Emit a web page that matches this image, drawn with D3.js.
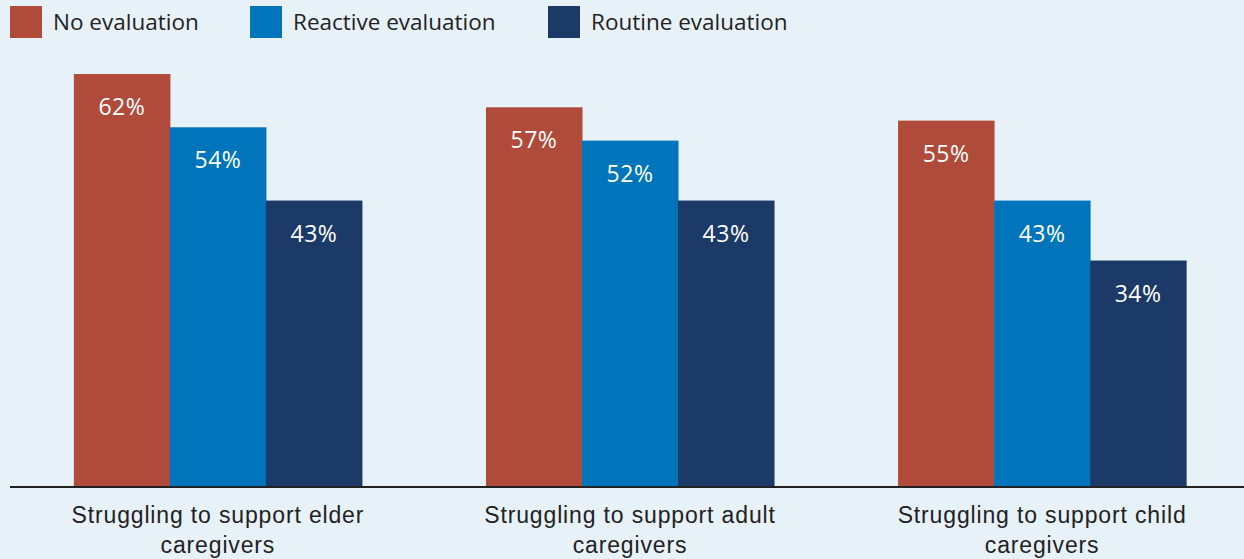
<!DOCTYPE html>
<html>
<head>
<meta charset="utf-8">
<script src="https://cdn.jsdelivr.net/npm/d3@7"></script>
<style>
  html, body { margin: 0; padding: 0; background: #e7f1f8; }
  svg { display: block; font-family: "Open Sans", "Noto Sans", sans-serif; }
</style>
</head>
<body>
<svg id="chart" width="1244" height="559"></svg>
<script>
const categories = [
  "Struggling to support elder caregivers",
  "Struggling to support adult caregivers",
  "Struggling to support child caregivers"
];
const seriesNames = ["No evaluation", "Reactive evaluation", "Routine evaluation"];
const noEvaluation = [62, 57, 55];
const reactiveEvaluation = [54, 52, 43];
const routineEvaluation = [43, 43, 34];
const seriesValues = [noEvaluation, reactiveEvaluation, routineEvaluation];
const colors = ["#b04a3a", "#0075bc", "#1c3a67"];

const svg = d3.select("#chart");
const W = 1244, H = 559;
svg.append("rect").attr("width", W).attr("height", H).attr("fill", "#e7f1f8");

const x0 = d3.scaleBand().domain(categories).range([10, 1250])
  .paddingInner(0.301).paddingOuter(0.155);
const x1 = d3.scaleBand().domain(seriesNames).range([0, x0.bandwidth()]).padding(0);
const y = d3.scaleLinear().domain([0, 62]).range([487, 74]);

const data = [];
categories.forEach((c, i) => {
  seriesNames.forEach((s, j) => {
    data.push({ cat: c, series: s, value: seriesValues[j][i], color: colors[j] });
  });
});

const g = svg.append("g");
g.selectAll("rect.bar").data(data).join("rect")
  .attr("class", "bar")
  .attr("x", d => x0(d.cat) + x1(d.series))
  .attr("y", d => y(d.value))
  .attr("width", x1.bandwidth() + 0.5)
  .attr("height", d => y(0) - y(d.value))
  .attr("fill", d => d.color);

g.selectAll("text.val").data(data).join("text")
  .attr("class", "val")
  .attr("x", d => x0(d.cat) + x1(d.series) + x1.bandwidth() / 2)
  .attr("y", d => y(d.value) + 41)
  .attr("text-anchor", "middle")
  .attr("fill", "#ffffff")
  .attr("font-size", 23)
  .attr("letter-spacing", 0.5)
  .text(d => d.value + "%");

// baseline axis
const xAxis = d3.axisBottom(x0).tickSize(0).tickFormat("");
const axisG = svg.append("g").attr("transform", `translate(0,${y(0)})`).call(xAxis);
axisG.select(".domain").remove();
axisG.append("line").attr("x1", 10).attr("x2", W).attr("y1", 0).attr("y2", 0)
  .attr("stroke", "#222").attr("stroke-width", 2);

// category labels (two lines)
const lines = {
  [categories[0]]: ["Struggling to support elder", "caregivers"],
  [categories[1]]: ["Struggling to support adult", "caregivers"],
  [categories[2]]: ["Struggling to support child", "caregivers"]
};
axisG.selectAll(".tick").each(function(d) {
  const t = d3.select(this).append("text")
    .attr("text-anchor", "middle")
    .attr("fill", "#222")
    .attr("font-size", 23)
    .attr("letter-spacing", 0.85);
  lines[d].forEach((ln, k) => {
    t.append("tspan").attr("x", 0).attr("y", 36 + k * 30).text(ln);
  });
});

// legend
const legendX = [10, 250, 548];
const leg = svg.append("g");
seriesNames.forEach((s, j) => {
  leg.append("rect").attr("x", legendX[j]).attr("y", 6).attr("width", 32).attr("height", 32)
    .attr("fill", colors[j]);
  leg.append("text").attr("x", legendX[j] + 43).attr("y", 30)
    .attr("fill", "#222").attr("font-size", 22.5).text(s);
});
</script>
</body>
</html>
